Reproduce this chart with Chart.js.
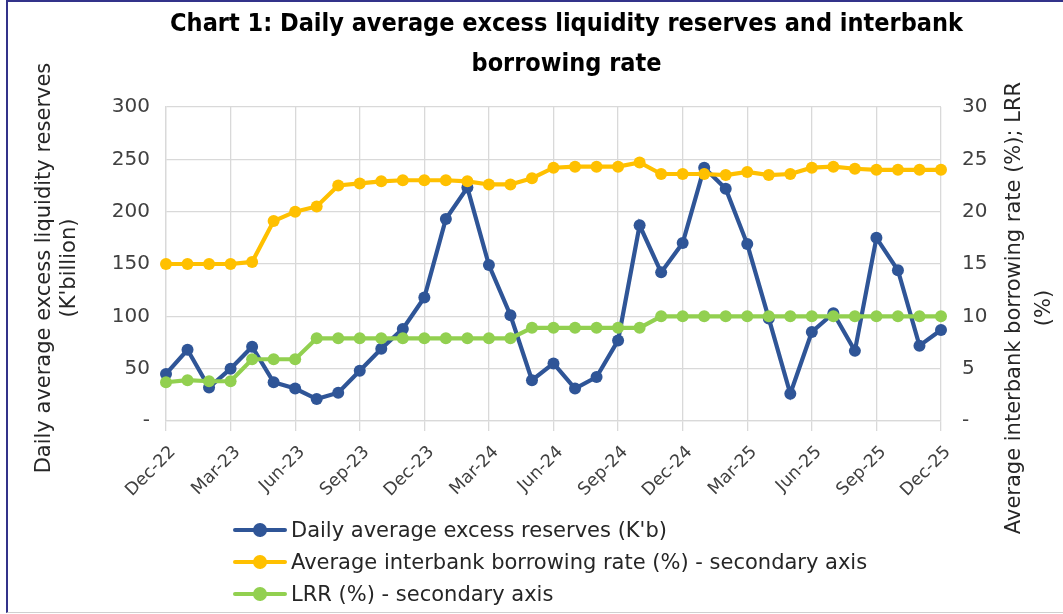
<!DOCTYPE html>
<html>
<head>
<meta charset="utf-8">
<script src="https://cdn.jsdelivr.net/npm/chart.js@4.4.1/dist/chart.umd.min.js"></script>
<style>
    html, body { margin: 0; padding: 0; background: #fff; }
    .wrap { position: relative; width: 1063px; height: 614px; overflow: hidden; }
    .frame { position: absolute; left: 6px; top: 0; width: 1070px; height: 610px;
             border-left: 2px solid #33338a; border-top: 2px solid #33338a; border-bottom: 1px solid #d0d0d0;
             pointer-events: none; }
    #legend { position: absolute; left: 233px; top: 514px;
              font-family: 'DejaVu Sans', sans-serif; font-size: 21px; color: #262626; }
    .lg-row { display: flex; align-items: center; height: 32px; }
    .lg-mark { position: relative; width: 54px; height: 14px; margin-right: 4px; }
    .lg-mark .ln { position: absolute; left: 0; right: 0; top: 5px; height: 4px; border-radius: 2px; }
    .lg-mark .dt { position: absolute; left: 20px; top: 0; width: 14px; height: 14px; border-radius: 50%; }
</style>
</head>
<body>
<div class="wrap">
    <canvas id="chart" width="1063" height="614"></canvas>
    <div class="frame"></div>
    <div id="legend"></div>
</div>
<script>
const FONT = "'DejaVu Sans', sans-serif";
const TITLE_FONT = "'DejaVu Sans Condensed', 'DejaVu Sans', sans-serif";

const months = ['Dec-22','Jan-23','Feb-23','Mar-23','Apr-23','May-23','Jun-23','Jul-23','Aug-23','Sep-23','Oct-23','Nov-23',
                'Dec-23','Jan-24','Feb-24','Mar-24','Apr-24','May-24','Jun-24','Jul-24','Aug-24','Sep-24','Oct-24','Nov-24',
                'Dec-24','Jan-25','Feb-25','Mar-25','Apr-25','May-25','Jun-25','Jul-25','Aug-25','Sep-25','Oct-25','Nov-25','Dec-25'];

// K'billion, left axis
const excessReserves = [45, 68, 32, 50, 71, 37, 31, 21, 27, 48, 69, 88,
                        118, 193, 223, 149, 101, 39, 55, 31, 42, 77, 187, 142,
                        170, 242, 222, 169, 98, 26, 85, 103, 67, 175, 144, 72, 87];

// %, right axis
const interbankRate = [15, 15, 15, 15, 15.2, 19.1, 20, 20.5, 22.5, 22.7, 22.9, 23,
                       23, 23, 22.9, 22.6, 22.6, 23.2, 24.2, 24.3, 24.3, 24.3, 24.7, 23.6,
                       23.6, 23.6, 23.5, 23.8, 23.5, 23.6, 24.2, 24.3, 24.1, 24, 24, 24, 24];

const lrr = [3.7, 3.9, 3.8, 3.8, 5.9, 5.9, 5.9, 7.9, 7.9, 7.9, 7.9, 7.9,
             7.9, 7.9, 7.9, 7.9, 7.9, 8.9, 8.9, 8.9, 8.9, 8.9, 8.9, 10,
             10, 10, 10, 10, 10, 10, 10, 10, 10, 10, 10, 10, 10];

const seriesNames = ["Daily average excess reserves (K'b)",
                     'Average interbank borrowing rate (%)  - secondary axis',
                     'LRR (%) - secondary axis'];
const seriesColors = ['#2f5597', '#ffc000', '#92d050'];

const leftTitle = ['Daily average excess liquidity reserves', "(K'billion)"];
const rightTitle = ['Average interbank borrowing rate (%); LRR', '(%)'];
const chartTitle = ['Chart 1: Daily average excess liquidity reserves and interbank', 'borrowing rate'];

const GRID = '#d9d9d9';
const TICK = '#404040';

function lineSet(label, data, color, axis, order) {
    return {
        label, data, yAxisID: axis, order,
        borderColor: color, backgroundColor: color,
        borderWidth: 4.2, pointRadius: 6, pointHoverRadius: 6,
        pointBorderWidth: 0, tension: 0
    };
}

// axis titles drawn by hand so the right one reads bottom-to-top like the original
const axisTitles = {
    id: 'axisTitles',
    afterDraw(chart) {
        const ctx = chart.ctx;
        const area = chart.chartArea;
        ctx.save();
        ctx.fillStyle = '#262626';
        ctx.font = '21px ' + FONT;
        ctx.textAlign = 'center';
        ctx.textBaseline = 'middle';

        ctx.save();
        ctx.translate(57, (area.top + area.bottom) / 2 + 4);
        ctx.rotate(-Math.PI / 2);
        ctx.fillText(leftTitle[0], 0, -12);
        ctx.fillText(leftTitle[1], 0, 13);
        ctx.restore();

        ctx.save();
        ctx.translate(1030, (area.top + area.bottom) / 2 + 44);
        ctx.rotate(-Math.PI / 2);
        ctx.fillText(rightTitle[0], 0, -15);
        ctx.fillText(rightTitle[1], 0, 15);
        ctx.restore();

        ctx.restore();
    }
};

const chart = new Chart(document.getElementById('chart'), {
    type: 'line',
    data: {
        labels: months,
        datasets: [
            lineSet(seriesNames[0], excessReserves, seriesColors[0], 'y', 3),
            lineSet(seriesNames[1], interbankRate, seriesColors[1], 'y2', 2),
            lineSet(seriesNames[2], lrr, seriesColors[2], 'y2', 1)
        ]
    },
    options: {
        responsive: false,
        animation: false,
        layout: { padding: { left: 70, right: 0, top: 0, bottom: 0 } },
        plugins: {
            legend: { display: false },
            tooltip: { enabled: false },
            title: {
                display: true,
                text: chartTitle,
                color: '#000',
                font: { family: TITLE_FONT, size: 25, weight: 'bold', lineHeight: 1.6 },
                padding: { top: 4, bottom: 23 }
            }
        },
        scales: {
            x: {
                offset: false,
                grid: {
                    color: c => (c.index % 3 === 0 ? GRID : 'transparent'),
                    tickLength: 10,
                    lineWidth: 1.3
                },
                border: { color: GRID, width: 1.3 },
                ticks: {
                    autoSkip: false, maxRotation: 45, minRotation: 45,
                    color: TICK, padding: 11, labelOffset: 7,
                    font: { family: FONT, size: 17.5 },
                    callback(v, i) { return i % 3 === 0 ? this.getLabelForValue(v) : ''; }
                },
                afterFit(scale) { scale.height = 193; }
            },
            y: {
                position: 'left',
                min: 0, max: 300,
                grid: { color: GRID, drawTicks: false, lineWidth: 1.3 },
                border: { color: GRID, width: 1.3 },
                ticks: {
                    stepSize: 50, color: TICK, padding: 16,
                    font: { family: FONT, size: 20 },
                    callback: v => (v === 0 ? '-' : v)
                },
                afterFit(scale) { scale.width = 96; }
            },
            y2: {
                position: 'right',
                min: 0, max: 30,
                grid: { display: false, drawTicks: false },
                border: { display: false },
                ticks: {
                    stepSize: 5, color: TICK, padding: 21,
                    font: { family: FONT, size: 20 },
                    callback: v => (v === 0 ? '-' : v)
                },
                afterFit(scale) { scale.width = 122; }
            }
        }
    },
    plugins: [axisTitles]
});

// legend built from the chart's own datasets, listed top to bottom like the original
document.getElementById('legend').innerHTML = chart.data.datasets.map(ds => `
    <div class="lg-row">
        <span class="lg-mark"><span class="ln" style="background:${ds.borderColor}"></span><span class="dt" style="background:${ds.borderColor}"></span></span>
        <span>${ds.label}</span>
    </div>`).join('');
</script>
</body>
</html>
